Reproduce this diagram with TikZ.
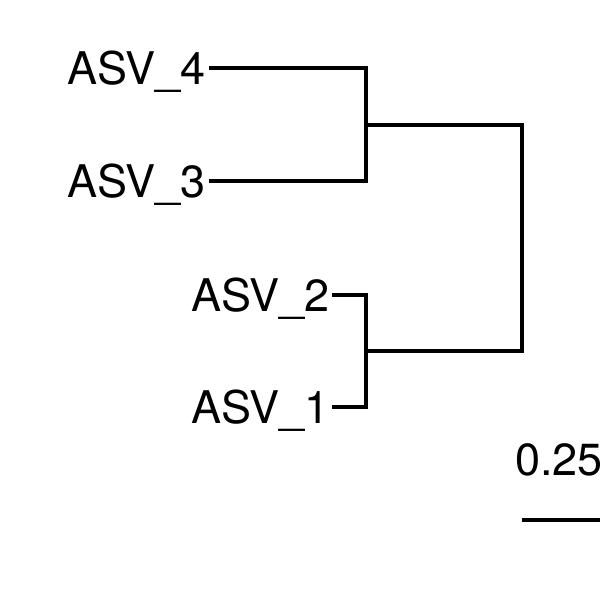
\documentclass[tikz,border=0pt]{standalone}
\usepackage{fontspec}
\setmainfont{TeX Gyre Heros}
\begin{document}
\begin{tikzpicture}[x=1pt,y=-1pt,
  branch/.style={line width=3.8pt,line join=miter,line cap=butt,black},
  leaflab/.style={anchor=base east,inner sep=0pt,font=\fontsize{45}{50}\selectfont},
  scalelab/.style={anchor=base west,inner sep=0pt,font=\fontsize{45}{50}\selectfont}]
\useasboundingbox (0,0) rectangle (600,600);
% labels
\node[leaflab] (l4) at (206,84) {ASV\_4};
\node[leaflab] (l3) at (206,197) {ASV\_3};
\node[leaflab] (l2) at (330,311) {ASV\_2};
\node[leaflab] (l1) at (330,423) {ASV\_1};
% tips and internal nodes
\coordinate (t4) at (209,68);
\coordinate (t3) at (209,181);
\coordinate (t2) at (332,295);
\coordinate (t1) at (332,407);
\coordinate (n34) at (366,125);
\coordinate (n12) at (366,351);
\coordinate (root) at (522,238);
\draw[branch] (t4) -| (n34);
\draw[branch] (t3) -| (n34);
\draw[branch] (t2) -| (n12);
\draw[branch] (t1) -| (n12);
\draw[branch] (n34) -| (root);
\draw[branch] (n12) -| (root);
% scale bar
\coordinate (s1) at (522,520);
\coordinate (s2) at (602,520);
\draw[branch] (s1) -- (s2);
\node[scalelab] (sl) at (515,475) {0.25};
\end{tikzpicture}
\end{document}
